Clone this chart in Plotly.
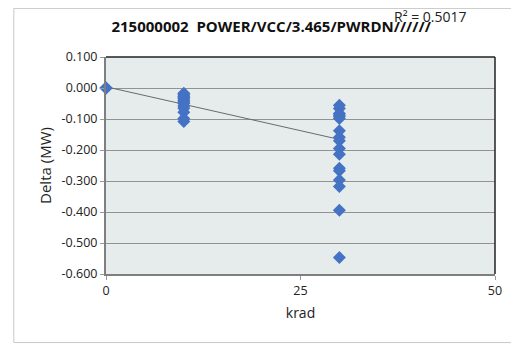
import plotly.graph_objects as go

# ---- data ----
x0_vals = [0, 0, 0]
y0_vals = [0.000, 0.000, 0.000]

x10_vals = [10] * 13
y10_vals = [-0.017, -0.022, -0.027, -0.030, -0.035, -0.040, -0.045,
            -0.050, -0.058, -0.065, -0.078, -0.098, -0.108]

x30_vals = [30] * 17
y30_vals = [-0.056, -0.066, -0.082, -0.087, -0.092, -0.098, -0.138,
            -0.159, -0.170, -0.195, -0.214, -0.259, -0.267, -0.297,
            -0.318, -0.394, -0.547]

trend_x = [0, 30]
trend_y = [0.004, -0.166]

title_text = "215000002  POWER/VCC/3.465/PWRDN//////"
r2_text = "R² = 0.5017"
x_ticks = [0, 25, 50]
y_ticks = [0.1, 0.0, -0.1, -0.2, -0.3, -0.4, -0.5, -0.6]

FONT = "Open Sans"
BLUE = "#4472C4"

xs = x0_vals + x10_vals + x30_vals
ys = y0_vals + y10_vals + y30_vals

fig = go.Figure()
fig.add_trace(go.Scatter(
    x=trend_x, y=trend_y, mode="lines",
    line=dict(color="#6a6a6a", width=1), showlegend=False, hoverinfo="skip"))
fig.add_trace(go.Scatter(
    x=xs, y=ys, mode="markers",
    marker=dict(symbol="diamond", size=10, color=BLUE),
    cliponaxis=False, showlegend=False))

fig.update_layout(
    width=511, height=337,
    margin=dict(l=97.5, r=24.3, t=49, b=71),
    paper_bgcolor="white",
    plot_bgcolor="#E6EBEB",
    font=dict(family=FONT, size=12, color="#222222"),
    title=dict(text="<b>" + title_text + "</b>", x=0.515, xanchor="center",
               y=1 - 19 / 337, yanchor="middle",
               font=dict(family=FONT, size=15, color="#111111")),
    xaxis=dict(range=[0, 50], tickvals=x_ticks, ticktext=[str(t) for t in x_ticks],
               showgrid=False, zeroline=False,
               showline=True, linecolor="#7f7f7f", linewidth=2, mirror=False,
               ticks="outside", ticklen=4, tickcolor="#9a9a9a",
               title=dict(text="krad", font=dict(family=FONT, size=14), standoff=10),
               tickfont=dict(family=FONT, size=12.5)),
    yaxis=dict(range=[-0.6, 0.1], tickvals=y_ticks,
               ticktext=[f"{t:.3f}" for t in y_ticks],
               showgrid=True, gridcolor="#929292", gridwidth=1, zeroline=False,
               showline=True, linecolor="#7f7f7f", linewidth=2,
               ticks="outside", ticklen=4, tickcolor="#9a9a9a",
               title=dict(text="Delta (MW)", font=dict(family=FONT, size=15), standoff=6),
               tickfont=dict(family=FONT, size=12.5)),
    shapes=[
        # plot-area top/right border
        dict(type="line", xref="paper", yref="paper", x0=0, x1=1, y0=1, y1=1,
             line=dict(color="#222222", width=1.5)),
        dict(type="line", xref="paper", yref="paper", x0=1, x1=1, y0=0, y1=1,
             line=dict(color="#222222", width=1.5)),
        # outer chart border
        dict(type="rect", xref="paper", yref="paper",
             x0=-0.237, x1=1.08, y0=-0.316, y1=1.224,
             line=dict(color="#c8c8c8", width=1), layer="below"),
    ],
    annotations=[
        dict(text=r2_text, xref="paper", yref="paper", x=0.834, y=1.185,
             xanchor="center", yanchor="middle", showarrow=False,
             font=dict(family=FONT, size=14, color="#222222")),
    ],
)

fig.write_html("out.html")
